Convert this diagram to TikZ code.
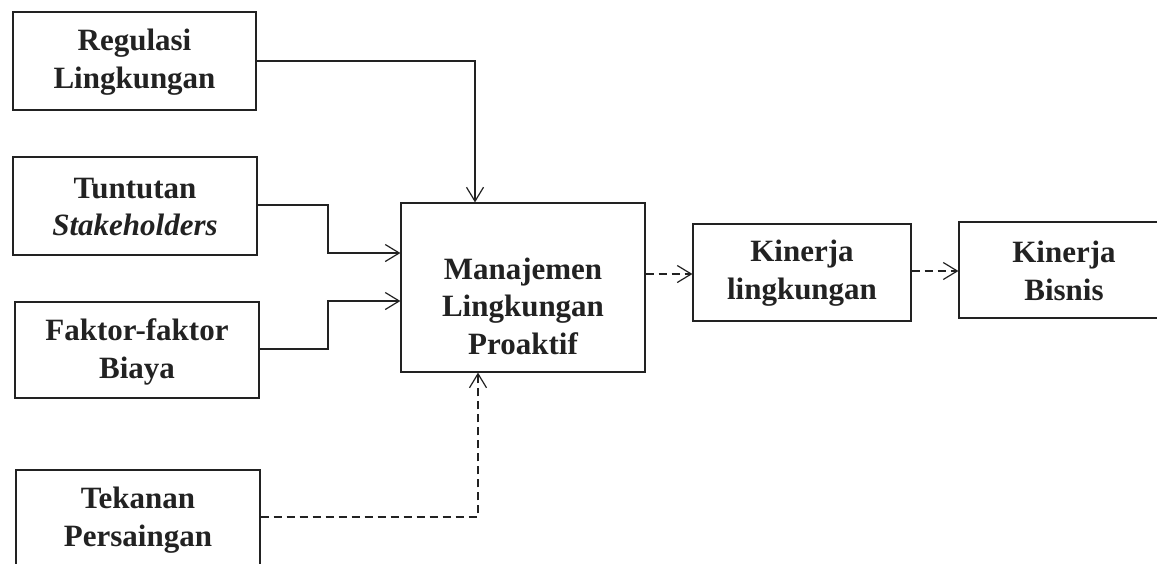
\documentclass[tikz,border=0pt]{standalone}
\usepackage{fontspec}
\setmainfont{Liberation Serif}
\usetikzlibrary{arrows.meta}
\definecolor{ink}{HTML}{222222}
\tikzset{
  box/.style={draw=ink, line width=1.2pt, inner sep=0pt, fill=none},
  lbl/.style={text=ink, align=center, inner sep=0pt, font=\fontsize{31}{37.5}\selectfont\bfseries},
  conn/.style={draw=ink, line width=1.2pt, -{Straight Barb[length=14pt,width=17pt,line width=1.2pt]}},
  dconn/.style={conn, dash pattern=on 8pt off 5pt},
}
\begin{document}
\begin{tikzpicture}[x=1pt,y=-1pt]
\useasboundingbox (0,0) rectangle (1157,563);
\fill[white] (0,0) rectangle (1157,563);
\clip (0,0) rectangle (1157,563);
% boxes
\node[box, minimum width=243pt, minimum height=98pt] (reg) at (134.5,61) {};
\node[lbl] (regt) at (134.5,62) {Regulasi\\Lingkungan};
\node[box, minimum width=244pt, minimum height=98pt] (tun) at (135,206) {};
\node[lbl] (tunt) at (135,207) {Tuntutan\\\textit{Stakeholders}};
\node[box, minimum width=244pt, minimum height=96pt] (fak) at (137,350) {};
\node[lbl] (fakt) at (137,352) {Faktor-faktor\\Biaya};
\node[box, minimum width=244pt, minimum height=98pt] (tek) at (138,519) {};
\node[lbl] (tekt) at (138,520) {Tekanan\\Persaingan};
\node[box, minimum width=244pt, minimum height=169pt] (man) at (523,287.5) {};
\node[lbl] (mant) at (523,306) {Manajemen\\Lingkungan\\Proaktif};
\node[box, minimum width=218pt, minimum height=97pt] (kin) at (802,272.5) {};
\node[lbl] (kint) at (802,273) {Kinerja\\lingkungan};
\node[box, minimum width=212pt, minimum height=96pt] (bis) at (1065,270) {};
\node[lbl] (bist) at (1064,271) {Kinerja\\Bisnis};
% connectors
\coordinate (c1) at (475,61);
\draw[conn] (reg.east |- c1) -- (c1) -- (c1 |- man.north);
\coordinate (c2) at (328,205);
\coordinate (c2b) at (328,253);
\draw[conn] (tun.east |- c2) -- (c2) -- (c2b) -- (man.west |- c2b);
\coordinate (c3) at (328,349);
\coordinate (c3b) at (328,301);
\draw[conn] (fak.east |- c3) -- (c3) -- (c3b) -- (man.west |- c3b);
\coordinate (c4) at (478,517);
\draw[dconn] (tek.east |- c4) -- (c4) -- (c4 |- man.south);
\coordinate (c5) at (660,274);
\draw[dconn] (man.east |- c5) -- (kin.west |- c5);
\coordinate (c6) at (930,271);
\draw[dconn] (kin.east |- c6) -- (bis.west |- c6);
\end{tikzpicture}
\end{document}
